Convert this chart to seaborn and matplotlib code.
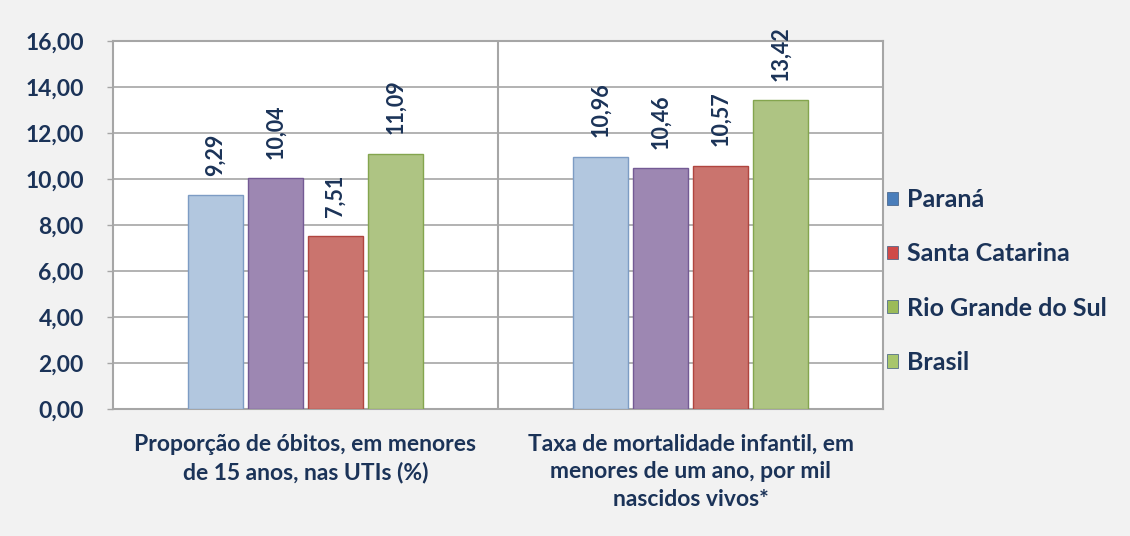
import matplotlib
matplotlib.use("Agg")
import matplotlib.pyplot as plt
from matplotlib.patches import Patch
from matplotlib.ticker import FuncFormatter, MultipleLocator
import seaborn as sns
import pandas as pd

# ---- data ----
categories = [
    "Proporção de óbitos, em menores\nde 15 anos, nas UTIs (%)",
    "Taxa de mortalidade infantil, em\nmenores de um ano, por mil\nnascidos vivos*",
]
series = ["Paraná", "Santa Catarina", "Rio Grande do Sul", "Brasil"]
parana = [9.29, 10.96]
santa_catarina = [10.04, 10.46]
rio_grande_do_sul = [7.51, 10.57]
brasil = [11.09, 13.42]

bar_colors = ["#abc7e6", "#9d80b9", "#d9665f", "#b1cf78"]
edge_colors = ["#7d9cc4", "#745a94", "#b0453f", "#84a54e"]
legend_colors = ["#4a7ebb", "#d04a48", "#9bbb59", "#a8c66c"]
text_color = "#1b3358"

df = pd.DataFrame({
    "categoria": categories * 4,
    "serie": [s for s in series for _ in categories],
    "valor": parana + santa_catarina + rio_grande_do_sul + brasil,
})

sns.set_theme(style="white")
plt.rcParams["font.family"] = ["Lato", "DejaVu Sans"]
plt.rcParams["font.weight"] = "bold"

fig = plt.figure(figsize=(11.3, 5.36), dpi=100, facecolor="#f2f2f2")
ax = fig.add_axes([113 / 1130, 1 - 409 / 536, (883 - 113) / 1130, (409 - 41) / 536])
ax.set_facecolor("white")

sns.barplot(data=df, x="categoria", y="valor", hue="serie", hue_order=series,
            order=categories, palette=bar_colors, width=0.623, gap=0.08,
            linewidth=1, ax=ax, legend=False, zorder=3)

for container, ec in zip(ax.containers, edge_colors):
    for p in container:
        p.set_edgecolor(ec)
    ax.bar_label(container,
                 labels=[f"{v:.2f}".replace(".", ",") for v in container.datavalues],
                 rotation=90, padding=14, fontsize=15.5, fontweight="bold",
                 color=text_color)

ax.set_ylim(0, 16)
ax.set_xlim(-0.5, 1.5)
ax.yaxis.set_major_locator(MultipleLocator(2))
ax.yaxis.set_major_formatter(FuncFormatter(lambda v, _: f"{v:.2f}".replace(".", ",")))
ax.grid(axis="y", color="#a6a6a6", linewidth=1.2, zorder=0)
ax.set_axisbelow(True)
ax.axvline(0.5, color="#a6a6a6", linewidth=1.5, zorder=1)
for s in ax.spines.values():
    s.set_color("#a6a6a6")
    s.set_linewidth(1.5)
    s.set_visible(True)

ax.set_xlabel("")
ax.set_ylabel("")
ax.tick_params(axis="y", left=True, length=4, width=1, color="#a6a6a6", pad=17,
               labelsize=16.5, labelcolor=text_color)
ax.tick_params(axis="x", bottom=False, pad=12, labelsize=16.5, labelcolor=text_color)
for lbl in ax.get_xticklabels():
    lbl.set_linespacing(1.38)
    lbl.set_fontweight("bold")
for lbl in ax.get_yticklabels():
    lbl.set_fontweight("bold")

handles = [Patch(facecolor=c, edgecolor="#3d5a80", linewidth=0.5) for c in legend_colors]
fig.legend(handles, series, loc="center left", bbox_to_anchor=(887 / 1130, 1 - 281 / 536),
           frameon=False, labelcolor=text_color, handlelength=0.45,
           handleheight=0.45, handletextpad=0.35, labelspacing=1.25,
           borderpad=0, borderaxespad=0,
           prop={"weight": "bold", "size": 18})

fig.savefig("out.png", dpi=100, facecolor=fig.get_facecolor())
